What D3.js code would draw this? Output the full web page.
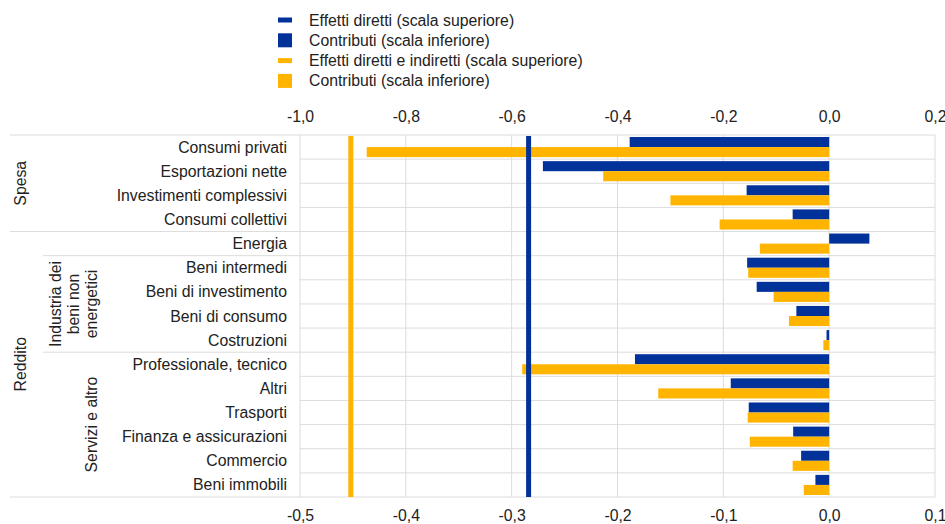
<!DOCTYPE html>
<html>
<head>
<meta charset="utf-8">
<script src="https://cdn.jsdelivr.net/npm/d3@7"></script>
<style>
    body { margin: 0; background: #fff; }
    svg { font-family: "Liberation Sans", Arial, sans-serif; }
</style>
</head>
<body>
<div id="chart"></div>
<script>
// categories, top to bottom
const categories = [
    'Consumi privati', 'Esportazioni nette', 'Investimenti complessivi', 'Consumi collettivi',
    'Energia', 'Beni intermedi', 'Beni di investimento', 'Beni di consumo', 'Costruzioni',
    'Professionale, tecnico', 'Altri', 'Trasporti', 'Finanza e assicurazioni', 'Commercio', 'Beni immobili'
];
// top scale
const directEffects = [-0.377, -0.541, -0.156, -0.069, 0.076, -0.155, -0.137, -0.062, -0.005, -0.367, -0.186, -0.152, -0.068, -0.053, -0.026];
const totalEffects  = [-0.874, -0.427, -0.300, -0.207, -0.131, -0.153, -0.105, -0.076, -0.011, -0.580, -0.323, -0.154, -0.150, -0.069, -0.048];
// bottom scale
const contribDirect = -0.284;
const contribTotal = -0.452;

const topTicks = [-1.0, -0.8, -0.6, -0.4, -0.2, 0.0, 0.2];
const bottomTicks = [-0.5, -0.4, -0.3, -0.2, -0.1, 0.0, 0.1];

// group labels: [label lines, first row, last row, x]
const groups = [
    {lines: ['Spesa'], from: 0, to: 3, x: 20},
    {lines: ['Reddito'], from: 4, to: 14, x: 20},
    {lines: ['Industria dei', 'beni non', 'energetici'], from: 5, to: 8, x: 73},
    {lines: ['Servizi e altro'], from: 9, to: 14, x: 91}
];
const separators = [
    {row: 0, x0: 10}, {row: 4, x0: 10}, {row: 5, x0: 43}, {row: 9, x0: 43}, {row: 15, x0: 10}
];

const legendItems = [
    {label: 'Effetti diretti (scala superiore)', color: '#003299', kind: 'line'},
    {label: 'Contributi (scala inferiore)', color: '#003299', kind: 'box'},
    {label: 'Effetti diretti e indiretti (scala superiore)', color: '#ffb400', kind: 'line'},
    {label: 'Contributi (scala inferiore)', color: '#ffb400', kind: 'box'}
];

const blue = '#003299', orange = '#ffb400', grid = '#dcdcdc';
const fontSize = '15.8px';
const W = 945, H = 524;
const plot = {left: 300, right: 935, top: 135, bottom: 497};

const locale = d3.formatLocale({decimal: ',', thousands: '.', grouping: [3], currency: ['', '€'], minus: '-'});
const fmt = locale.format('.1f');

const svg = d3.select('#chart').append('svg')
    .attr('width', W)
    .attr('height', H);

const xTop = d3.scaleLinear().domain([-1.0, 0.2]).range([plot.left, plot.right]);
const xBot = d3.scaleLinear().domain([-0.5, 0.1]).range([plot.left, plot.right]);
const y = d3.scaleBand().domain(categories).range([plot.top, plot.bottom]).padding(0);
const ySub = d3.scaleBand().domain(['direct', 'total']).range([0, y.bandwidth()]).paddingInner(0).paddingOuter(0.2);

// vertical gridlines
svg.append('g')
    .selectAll('line')
    .data(bottomTicks)
    .enter().append('line')
    .attr('x1', d => xBot(d)).attr('x2', d => xBot(d))
    .attr('y1', plot.top).attr('y2', plot.bottom)
    .attr('stroke', grid).attr('stroke-width', 1);

// horizontal row lines inside plot
svg.append('g')
    .selectAll('line')
    .data(d3.range(categories.length + 1))
    .enter().append('line')
    .attr('x1', plot.left).attr('x2', plot.right)
    .attr('y1', i => i < categories.length ? y(categories[i]) : plot.bottom)
    .attr('y2', i => i < categories.length ? y(categories[i]) : plot.bottom)
    .attr('stroke', grid).attr('stroke-width', 1);

// group separators in label area
svg.append('g')
    .selectAll('line')
    .data(separators)
    .enter().append('line')
    .attr('x1', d => d.x0).attr('x2', plot.left)
    .attr('y1', d => d.row < categories.length ? y(categories[d.row]) : plot.bottom)
    .attr('y2', d => d.row < categories.length ? y(categories[d.row]) : plot.bottom)
    .attr('stroke', grid).attr('stroke-width', 1);

// bars
const barData = categories.flatMap((c, i) => [
    {cat: c, key: 'direct', value: directEffects[i], color: blue},
    {cat: c, key: 'total', value: totalEffects[i], color: orange}
]);
svg.append('g')
    .selectAll('rect')
    .data(barData)
    .enter().append('rect')
    .attr('x', d => Math.min(xTop(d.value), xTop(0)))
    .attr('y', d => y(d.cat) + ySub(d.key))
    .attr('width', d => Math.abs(xTop(d.value) - xTop(0)))
    .attr('height', ySub.bandwidth())
    .attr('fill', d => d.color);

// contribution lines (bottom scale)
svg.append('g')
    .selectAll('line')
    .data([{v: contribTotal, color: orange}, {v: contribDirect, color: blue}])
    .enter().append('line')
    .attr('x1', d => xBot(d.v)).attr('x2', d => xBot(d.v))
    .attr('y1', plot.top + 1).attr('y2', plot.bottom)
    .attr('stroke', d => d.color).attr('stroke-width', 5);

// axes
const topAxis = svg.append('g')
    .attr('transform', `translate(0,${plot.top - 10})`)
    .call(d3.axisTop(xTop).tickValues(topTicks).tickFormat(fmt).tickSize(0));
const botAxis = svg.append('g')
    .attr('transform', `translate(0,${plot.bottom + 10})`)
    .call(d3.axisBottom(xBot).tickValues(bottomTicks).tickFormat(fmt).tickSize(0));
[topAxis, botAxis].forEach(a => {
    a.select('.domain').remove();
    a.selectAll('text')
        .style('font-family', '"Liberation Sans", Arial, sans-serif')
        .style('font-size', fontSize)
        .attr('fill', '#222');
});

// category labels
svg.append('g')
    .selectAll('text')
    .data(categories)
    .enter().append('text')
    .attr('x', 287)
    .attr('y', d => y(d) + y.bandwidth() / 2)
    .attr('dy', '0.35em')
    .attr('text-anchor', 'end')
    .style('font-size', fontSize)
    .attr('fill', '#222')
    .text(d => d);

// group labels (rotated)
groups.forEach(g => {
    const yc = (y(categories[g.from]) + y(categories[g.to]) + y.bandwidth()) / 2;
    const t = svg.append('text')
        .attr('transform', `translate(${g.x},${yc}) rotate(-90)`)
        .attr('text-anchor', 'middle')
        .style('font-size', fontSize)
        .attr('fill', '#222');
    const n = g.lines.length;
    g.lines.forEach((line, i) => {
        t.append('tspan')
            .attr('x', 0)
            .attr('y', (i - (n - 1) / 2) * 18)
            .attr('dy', '0.35em')
            .text(line);
    });
});

// legend
const legend = svg.append('g').attr('transform', 'translate(278,20)');
legendItems.forEach((d, i) => {
    const row = legend.append('g').attr('transform', `translate(0,${i * 20.3})`);
    const h = d.kind === 'line' ? 5 : 14;
    row.append('rect')
        .attr('x', 0).attr('y', -h / 2)
        .attr('width', 14).attr('height', h)
        .attr('fill', d.color);
    row.append('text')
        .attr('x', 31).attr('y', 0)
        .attr('dy', '0.35em')
        .style('font-size', fontSize)
        .attr('fill', '#222')
        .text(d.label);
});
</script>
</body>
</html>
